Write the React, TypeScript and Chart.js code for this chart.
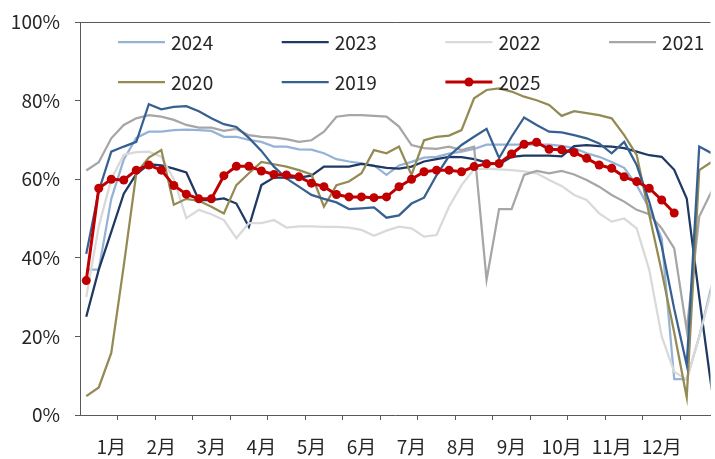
import { useEffect, useRef } from 'react';
import { Chart, registerables } from 'chart.js';

Chart.register(...registerables);

// ---- data (weekly operating rate, %) ----
const seriesNames = ['2024', '2023', '2022', '2021', '2020', '2019', '2025'];

const d2024 = [37, 37, 55, 65, 70.5, 72.1, 72.1, 72.5, 72.6, 72.5, 72.3, 70.8, 70.8, 70.0, 69.5, 68.3, 68.3, 67.6, 67.5, 66.6, 65.1, 64.5, 64.0, 63.5, 61.1, 63.5, 64.4, 65.5, 65.7, 66.5, 67.0, 67.7, 68.8, 68.8, 68.8, 68.8, 68.8, 68.8, 68.5, 67.9, 66.6, 65.7, 64.4, 62.9, 58.5, 52.6, 45, 9.1, 9.1, 20, 33, 45];
const d2023 = [25, 37, 46.6, 56.3, 61.3, 63.8, 63.5, 62.7, 61.7, 54.7, 54.7, 55.1, 53.8, 47.9, 58.5, 60.4, 60.4, 60.4, 60.9, 63.2, 63.2, 63.2, 63.9, 63.4, 62.9, 62.7, 63.2, 64.5, 65.1, 65.7, 65.6, 65.1, 64.3, 63.8, 65.7, 66.0, 66.0, 66.0, 65.8, 68.4, 68.7, 68.4, 68.3, 67.9, 67.0, 66.1, 65.7, 62.4, 55.1, 30, 6.4, 0];
const d2022 = [30, 48, 60, 66.2, 66.9, 67.0, 65.7, 60, 50.1, 52.2, 51.1, 49.6, 45.0, 48.8, 48.8, 49.6, 47.7, 48.0, 48.0, 47.9, 47.9, 47.7, 47.1, 45.6, 46.9, 47.9, 47.5, 45.4, 45.8, 53, 58.5, 62.5, 62.7, 62.5, 62.3, 62.0, 61.5, 59.8, 58.3, 56, 54.7, 51.3, 49.2, 50.0, 47.5, 37, 20, 11, 9, 20, 32, 40];
const d2021 = [62.2, 64.3, 70.4, 73.8, 75.5, 76.3, 75.9, 75.1, 73.8, 73.1, 73.1, 72.3, 72.8, 71.2, 70.8, 70.6, 70.2, 69.5, 69.9, 72.1, 75.9, 76.3, 76.3, 76.1, 75.9, 73.4, 68.7, 67.9, 67.7, 68.3, 67.4, 68.3, 34.4, 52.4, 52.4, 61.1, 62.1, 61.5, 62.1, 61.2, 59.8, 58.1, 56.0, 54.3, 52.2, 51.1, 47.5, 42.4, 21.6, 50.5, 57, 62];
const d2020 = [4.8, 7.0, 15.8, 38, 61.5, 65.5, 67.4, 53.5, 55, 54.5, 53, 51.3, 58.5, 61.5, 64.4, 63.8, 63.2, 62.3, 61.2, 53, 58.5, 59.4, 61.5, 67.4, 66.6, 68.3, 61.1, 69.9, 70.8, 71.1, 72.5, 80.6, 82.7, 83.1, 82.3, 81.0, 80.1, 78.9, 76.1, 77.3, 76.8, 76.3, 75.5, 71.2, 66.2, 51, 36.5, 21, 4.5, 62.3, 64.4, 66];
const d2019 = [41, 57, 67.0, 68.3, 69.5, 79.1, 77.8, 78.4, 78.6, 77.3, 75.5, 74.0, 73.3, 70.5, 67.2, 63.2, 60.2, 58.1, 56.0, 55.0, 54.1, 52.4, 52.6, 52.8, 50.2, 50.8, 53.8, 55.3, 61.0, 65.9, 68.7, 70.8, 72.8, 65.4, 70.8, 75.7, 73.8, 72.1, 71.9, 71.2, 70.4, 69.1, 66.6, 69.5, 63.6, 54.3, 43, 27, 12.7, 68.3, 66.6, 65];
const d2025 = [34.2, 57.7, 60.0, 59.8, 62.3, 63.6, 62.3, 58.4, 56.2, 55.0, 55.0, 60.9, 63.3, 63.3, 62.1, 61.2, 61.1, 60.6, 59.0, 58.1, 56.1, 55.5, 55.5, 55.3, 55.5, 58.1, 60.0, 61.9, 62.3, 62.3, 61.9, 63.2, 63.9, 64.0, 66.4, 68.9, 69.4, 67.6, 67.5, 66.8, 65.3, 63.6, 62.8, 60.6, 59.4, 57.7, 54.7, 51.4];

const monthLabels = ['1月', '2月', '3月', '4月', '5月', '6月', '7月', '8月', '9月', '10月', '11月', '12月'];
const yTicks = [0, 20, 40, 60, 80, 100];

const seriesData = [d2024, d2023, d2022, d2021, d2020, d2019, d2025];
const seriesColors = ['#95B3D7', '#1F3864', '#D9D9D9', '#A6A6A6', '#948A54', '#376092', '#C00000'];
const drawOrder = [6, 5, 4, 3, 2, 1, 0];

const FONT_FAMILY = '"Noto Sans CJK SC", "Microsoft YaHei", sans-serif';
const FONT_SIZE = 19;
const TEXT_COLOR = '#262626';
const AXIS_COLOR = '#595959';

const topBorderPlugin = {
  id: 'topBorder',
  beforeDatasetsDraw(chart: any) {
    const { ctx, chartArea } = chart;
    ctx.save();
    ctx.strokeStyle = AXIS_COLOR;
    ctx.lineWidth = 1;
    ctx.beginPath();
    ctx.moveTo(chartArea.left, chartArea.top + 0.5);
    ctx.lineTo(chartArea.right, chartArea.top + 0.5);
    ctx.stroke();
    ctx.restore();
  },
};

const legendPlugin = {
  id: 'gridLegend',
  afterDraw(chart: any) {
    const { ctx, chartArea } = chart;
    const colW = 163.7;
    const lineLen = 47;
    chart.data.datasets.forEach((ds: any, i: number) => {
      const col = i % 4;
      const row = Math.floor(i / 4);
      const x = chartArea.left + 38 + col * colW;
      const y = chartArea.top + 20 + row * 40;
      ctx.save();
      ctx.strokeStyle = ds.borderColor;
      ctx.lineWidth = ds.borderWidth;
      ctx.beginPath();
      ctx.moveTo(x, y);
      ctx.lineTo(x + lineLen, y);
      ctx.stroke();
      if (ds.pointRadius > 0) {
        ctx.fillStyle = ds.borderColor;
        ctx.beginPath();
        ctx.arc(x + lineLen / 2, y, ds.pointRadius, 0, Math.PI * 2);
        ctx.fill();
      }
      ctx.fillStyle = TEXT_COLOR;
      ctx.font = `${FONT_SIZE}px ${FONT_FAMILY}`;
      ctx.textBaseline = 'middle';
      ctx.textAlign = 'left';
      ctx.fillText(ds.label, x + lineLen + 6, y + 1);
      ctx.restore();
    });
  },
};

export default function App() {
  const ref = useRef<HTMLCanvasElement>(null);

  useEffect(() => {
    const font = { family: FONT_FAMILY, size: FONT_SIZE };
    const labelPos = monthLabels.map((_, i) => 2 + 4 * i);
    const tickPos: number[] = [];
    for (let v = 2.5; v <= 49.9; v += 3) tickPos.push(v);

    const datasets = seriesNames.map((name, k) => {
      const isMain = name === '2025';
      return {
        label: name,
        data: seriesData[k].map((y, i) => ({ x: i, y })),
        borderColor: seriesColors[k],
        backgroundColor: seriesColors[k],
        borderWidth: isMain ? 3 : 2.25,
        pointRadius: isMain ? 4.5 : 0,
        pointBorderWidth: 0,
        pointHoverRadius: 0,
        pointBackgroundColor: seriesColors[k],
        tension: 0,
        order: drawOrder[k],
      };
    });

    const chart = new Chart(ref.current!, {
      type: 'line',
      data: { datasets },
      options: {
        animation: false,
        responsive: false,
        maintainAspectRatio: false,
        devicePixelRatio: 1,
        events: [],
        layout: { padding: { top: 22, right: 0, left: 0, bottom: 0 } },
        plugins: { legend: { display: false }, tooltip: { enabled: false } },
        scales: {
          x: {
            type: 'linear',
            min: -0.5,
            max: 49.9,
            afterBuildTicks: (ax: any) => {
              ax.ticks = [...labelPos, ...tickPos].sort((a, b) => a - b).map((v) => ({ value: v }));
            },
            afterFit: (ax: any) => {
              ax.height = 44;
              ax.paddingLeft = 0;
              ax.paddingRight = 0;
            },
            grid: {
              display: true,
              drawOnChartArea: false,
              drawTicks: true,
              tickLength: 5,
              tickColor: (c: any) => (c.tick && labelPos.includes(c.tick.value) ? 'rgba(0,0,0,0)' : AXIS_COLOR),
            },
            border: { display: true, color: AXIS_COLOR, width: 1 },
            ticks: {
              autoSkip: false,
              maxRotation: 0,
              minRotation: 0,
              padding: 15,
              color: TEXT_COLOR,
              font,
              callback: (v: any) => {
                const k = labelPos.indexOf(Number(v));
                return k >= 0 ? monthLabels[k] : '';
              },
            },
          },
          y: {
            min: 0,
            max: 100,
            afterBuildTicks: (ax: any) => {
              ax.ticks = yTicks.map((v) => ({ value: v }));
            },
            afterFit: (ax: any) => {
              ax.width = 80;
              ax.paddingTop = 0;
              ax.paddingBottom = 0;
            },
            grid: { drawOnChartArea: false, drawTicks: true, tickLength: 5, tickColor: AXIS_COLOR },
            border: { display: true, color: AXIS_COLOR, width: 1 },
            ticks: {
              padding: 15,
              color: TEXT_COLOR,
              font,
              callback: (v: any) => `${v}%`,
            },
          },
        },
      },
      plugins: [topBorderPlugin, legendPlugin],
    } as any);

    return () => chart.destroy();
  }, []);

  return (
    <div style={{ position: 'absolute', left: 0, top: 0, width: 715, height: 459, background: '#ffffff' }}>
      <canvas ref={ref} width={715} height={459} style={{ display: 'block', width: 715, height: 459 }} />
    </div>
  );
}
